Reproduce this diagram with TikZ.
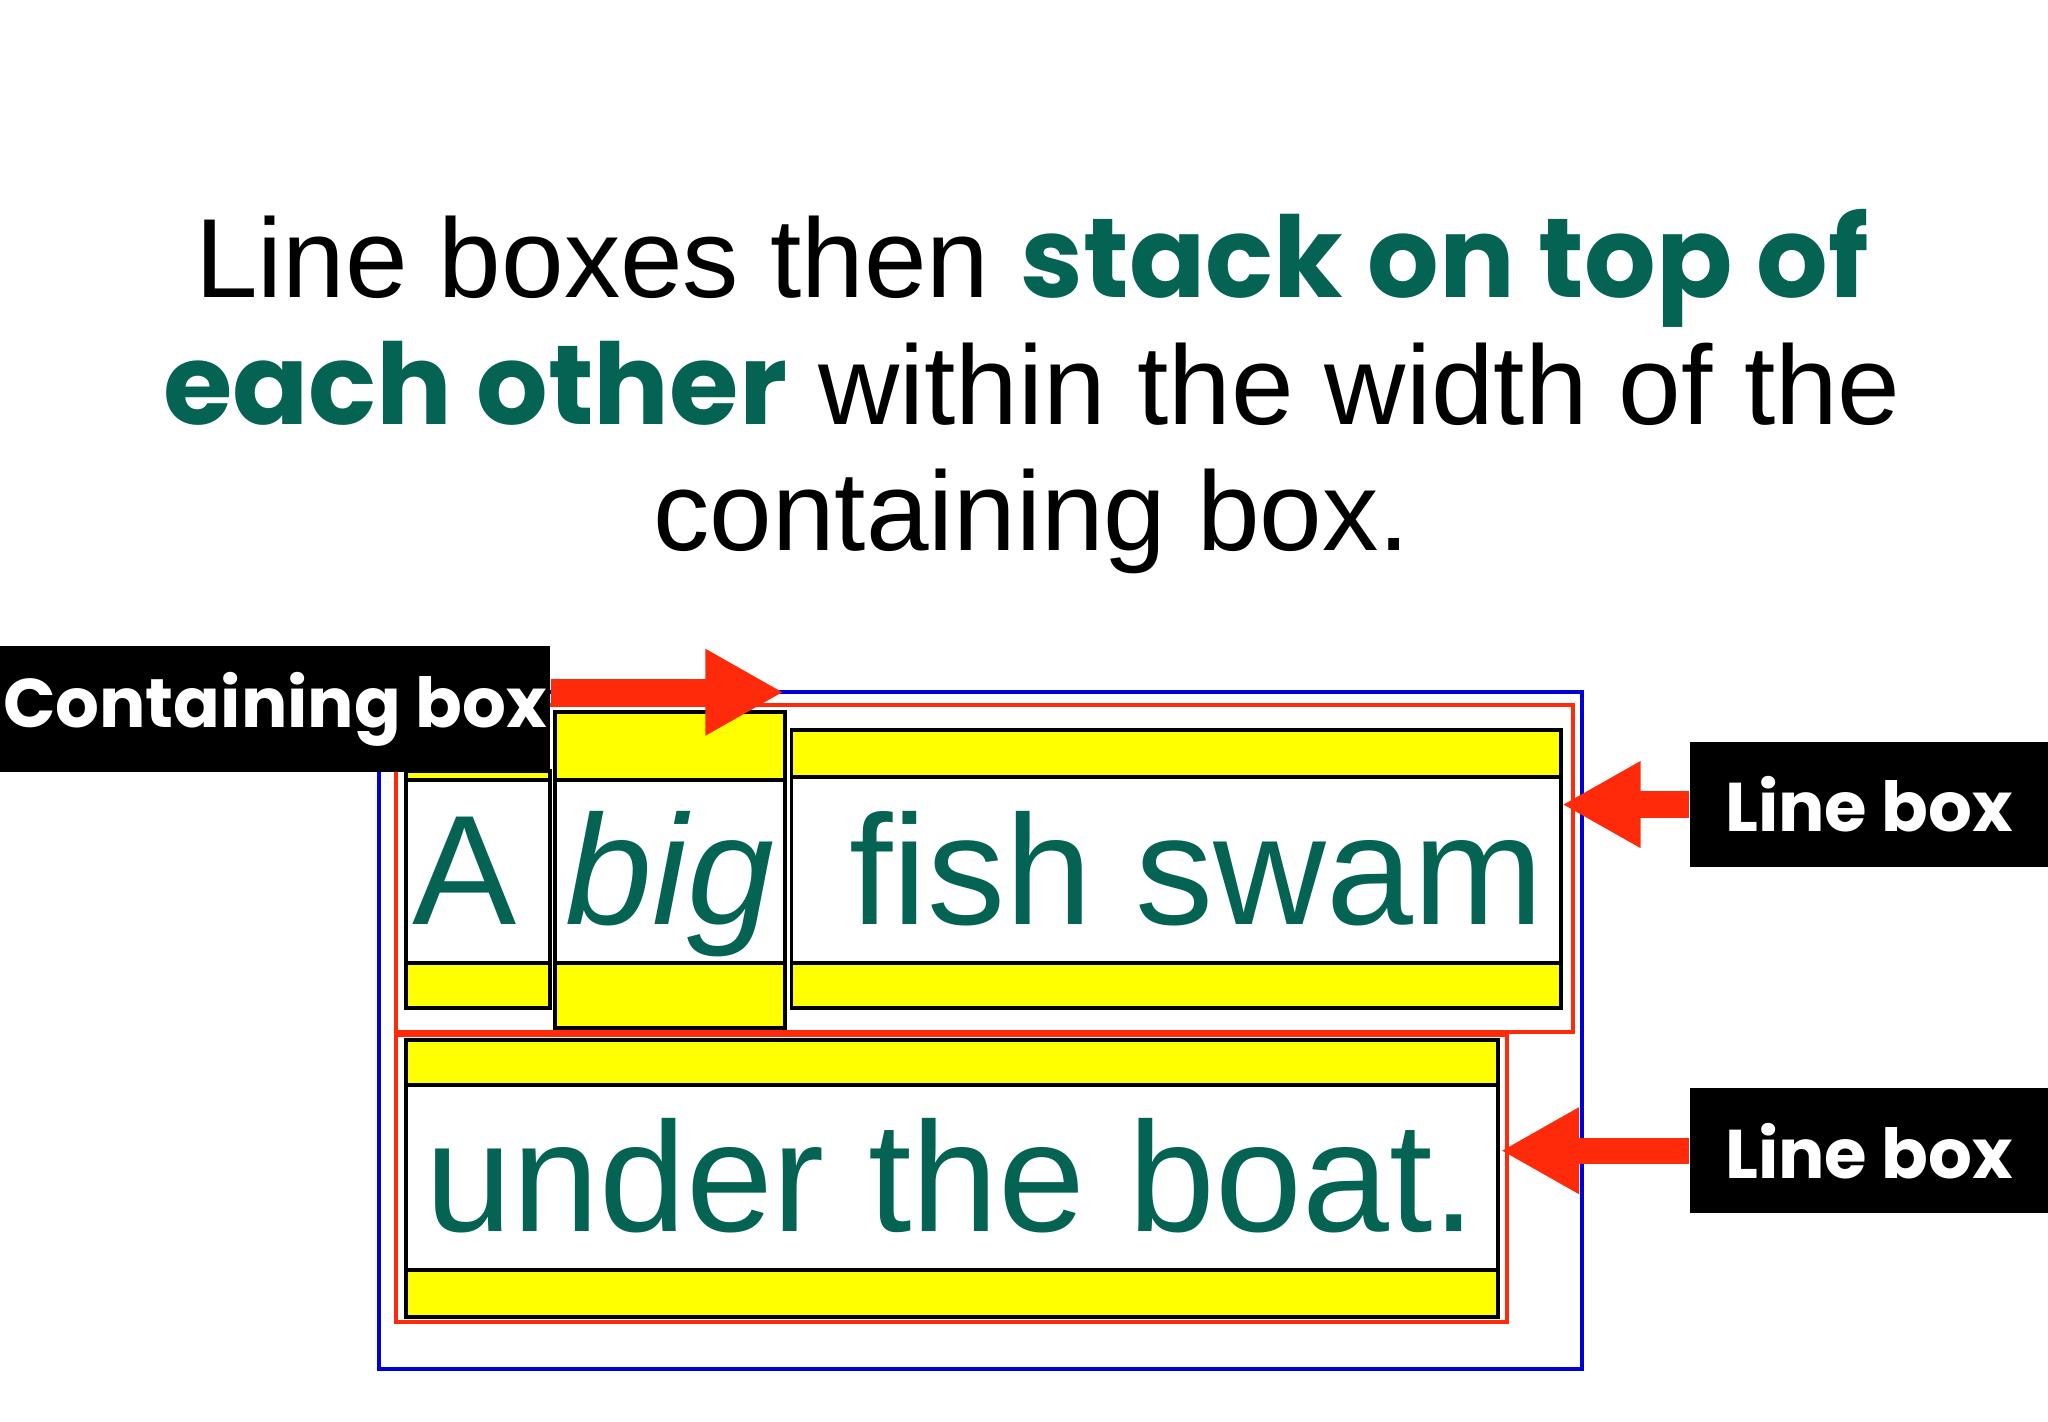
\documentclass[tikz,border=0pt]{standalone}
\usepackage{fontspec}
\setmainfont{Liberation Sans}
\newfontfamily\popb{Poppins}[UprightFont=* Bold]
\usetikzlibrary{arrows.meta}
\definecolor{tg}{HTML}{046352}
\definecolor{ar}{HTML}{FF2A0A}
\definecolor{yl}{HTML}{FFFF00}
\tikzset{
 lbl/.style={fill=black,text=white,font=\popb\fontsize{15}{15}\selectfont,inner sep=0pt},
 inl/.style={draw=black,line width=0.85pt},
 ystrip/.style={fill=yl},
 big/.style={text=tg,font=\fontsize{34}{34}\selectfont,inner sep=0pt,anchor=base},
 redarr/.style={draw=ar,line width=5.7pt,-{Triangle[width=0.62cm,length=0.6cm]}}
}
\begin{document}
\begin{tikzpicture}[x=0.01cm,y=-0.01cm]
\useasboundingbox (0,0) rectangle (1568,1088);
\node[align=center,font=\fontsize{24.5}{27.5}\selectfont] (title) at (790,300)
 {Line boxes then {\popb\color{tg}stack on top of}\\{\popb\color{tg}each other} within the width of the\\containing box.};
% containing box
\draw[blue!85!black,line width=0.9pt] (290,530) rectangle (1211,1048);
\draw[ar,line width=0.9pt] (303,540) rectangle (1204,790);
\draw[ar,line width=0.9pt] (303,792) rectangle (1154,1012);
% A
\fill[yl] (311,590) rectangle (421,597); \fill[yl] (311,737) rectangle (421,772);
\draw[inl] (311,590) rectangle (421,772); \draw[inl] (311,597)--(421,597); \draw[inl] (311,737)--(421,737);
\node[big] (A) at (356,708) {A};
% big
\fill[yl] (425,545) rectangle (601,597); \fill[yl] (425,737) rectangle (601,787);
\draw[inl] (425,545) rectangle (601,787); \draw[inl] (425,597)--(601,597); \draw[inl] (425,737)--(601,737);
\node[big] (bg) at (513,708) {\itshape big};
% fish swam
\fill[yl] (606,559) rectangle (1195,595); \fill[yl] (606,737) rectangle (1195,772);
\draw[inl] (606,559) rectangle (1195,772); \draw[inl] (606,595)--(1195,595); \draw[inl] (606,737)--(1195,737);
\node[big] (fs) at (916,708) {fish swam};
% under the boat
\fill[yl] (311,796) rectangle (1147,831); \fill[yl] (311,972) rectangle (1147,1008);
\draw[inl] (311,796) rectangle (1147,1008); \draw[inl] (311,831)--(1147,831); \draw[inl] (311,972)--(1147,972);
\node[big] (ub) at (728,943) {under the boat.};
% labels
\node[lbl,minimum width=4.21cm,minimum height=0.96cm] (cb) at (210.5,543) {Containing box};
\node[lbl,minimum width=2.74cm,minimum height=0.96cm] (lb1) at (1431,616) {Line box};
\node[lbl,minimum width=2.74cm,minimum height=0.96cm] (lb2) at (1431,881) {Line box};
\coordinate (c1) at (600,530);
\coordinate (c2) at (1196,616);
\coordinate (c3) at (1149,881);
\draw[redarr] (cb.east |- c1) -- (c1);
\draw[redarr] (lb1.west) -- (c2);
\draw[redarr] (lb2.west) -- (c3);
\end{tikzpicture}
\end{document}
